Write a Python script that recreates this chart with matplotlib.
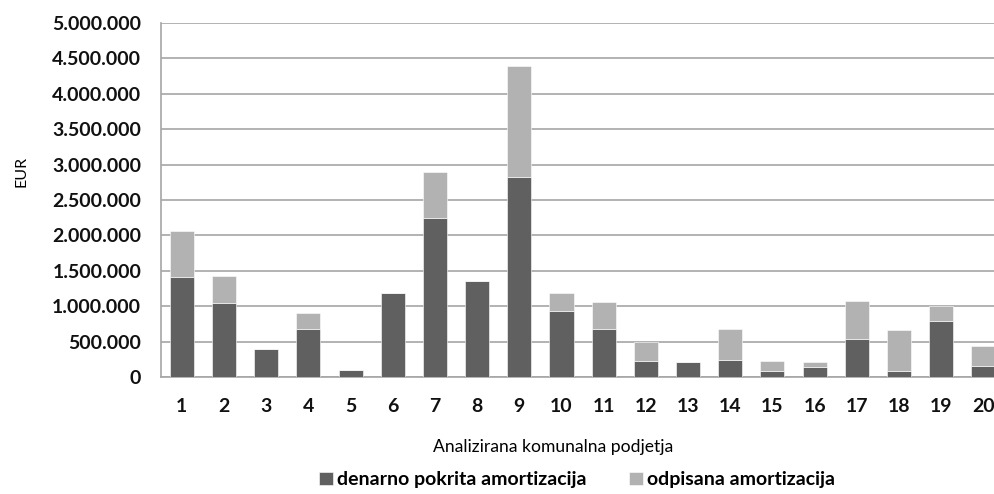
import numpy as np
import matplotlib
matplotlib.use("Agg")
from matplotlib import pyplot as plt
from matplotlib.ticker import FuncFormatter

# podjetja 1..20
podjetja = [str(i) for i in range(1, 21)]

# denarno pokrita amortizacija (EUR)
denarno = [1408000, 1045000, 391000, 683000, 94000, 1191000, 2241000, 1351000,
           2825000, 937000, 683000, 226000, 207000, 245000, 85000, 137000,
           537000, 85000, 791000, 155000]

# odpisana amortizacija (EUR)
odpisana = [654000, 382000, 0, 216000, 0, 0, 654000, 0,
            1563000, 249000, 381000, 264000, 0, 433000, 141000, 70000,
            541000, 574000, 212000, 287000]

temna = "#606060"
svetla = "#b2b2b2"
mreza = "#a6a6a6"

plt.rcParams['font.family'] = ['Lato', 'DejaVu Sans']

fig = plt.figure(figsize=(9.95, 4.94), dpi=100)
ax = fig.add_axes([0.1615, 0.2368, 0.848, 0.7166])

x = np.arange(len(podjetja))
ax.bar(x, denarno, width=0.57, color=temna, edgecolor="white", linewidth=0.4,
       label="denarno pokrita amortizacija", zorder=3)
ax.bar(x, odpisana, width=0.57, bottom=denarno, color=svetla, edgecolor="white",
       linewidth=0.4, label="odpisana amortizacija", zorder=3)

ax.set_xlim(-0.5, len(podjetja) - 0.5)
ax.set_ylim(0, 5000000)
ax.set_yticks(np.arange(0, 5000001, 500000))
ax.yaxis.set_major_formatter(FuncFormatter(lambda v, p: f"{int(v):,}".replace(",", ".")))
ax.set_xticks(x)
ax.set_xticklabels(podjetja)

ax.grid(axis="y", color=mreza, linewidth=1.2, zorder=0)
for s in ["top", "right"]:
    ax.spines[s].set_visible(False)
for s in ["left", "bottom"]:
    ax.spines[s].set_color(mreza)
    ax.spines[s].set_linewidth(1.2)

ax.tick_params(axis="both", length=0, labelsize=14, colors="#111111")
ax.tick_params(axis="y", pad=14)
ax.tick_params(axis="x", pad=15)
for lab in ax.get_xticklabels() + ax.get_yticklabels():
    lab.set_fontweight("bold")

fig.text(0.022, 0.652, "EUR", rotation=90, ha="center", va="center", fontsize=11.5)
fig.text(0.556, 0.095, "Analizirana komunalna podjetja", ha="center", va="center",
         fontsize=12.6)

fig.legend(loc="lower center", bbox_to_anchor=(0.58, 0.0), bbox_transform=fig.transFigure,
           ncol=2, frameon=False, handlelength=0.7, handleheight=0.7,
           handletextpad=0.2, columnspacing=2.2, borderpad=0.1, borderaxespad=0.2,
           prop={"weight": "bold", "size": 14})

fig.savefig("out.png", dpi=100)
